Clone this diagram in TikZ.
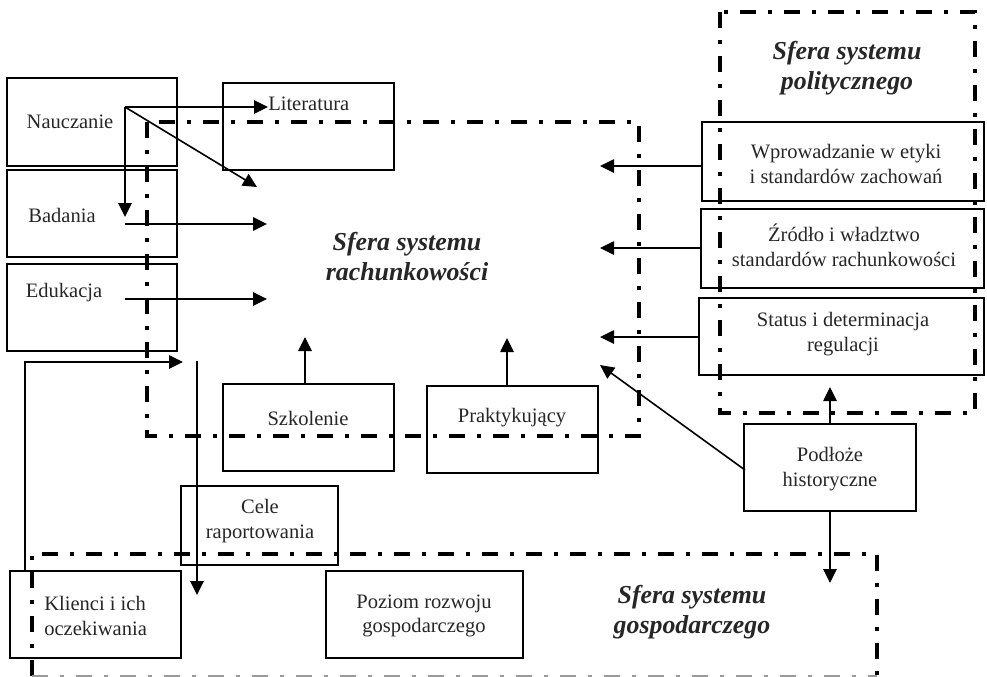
\documentclass[tikz,border=0pt]{standalone}
\usepackage{fontspec}
\setmainfont{Liberation Serif}
\usetikzlibrary{arrows.meta,fit}
\begin{document}
\begin{tikzpicture}[x=0.75pt,y=-0.75pt,
  box/.style={draw, line width=1.4pt, inner sep=0pt},
  lbl/.style={font=\fontsize{15.4}{18.5}\selectfont, align=center, inner sep=0pt, text=black!85},
  ttl/.style={font=\fontsize{19.4}{22.5}\selectfont\bfseries\itshape, align=center, inner sep=0pt, text=black!85},
  sfera/.style={line width=3pt, dash pattern=on 12pt off 9pt on 3pt off 9pt},
  arr/.style={line width=1.2pt, -{Triangle[length=10.5pt,width=10pt]}},
  ln/.style={line width=1.2pt}]
\useasboundingbox (0,0) rectangle (987,676);

% boxes
\node[box, fit={(7,78)(177,166)}] (nau) {};
\node[box, fit={(223,83)(394,170)}] (lit) {};
\node[box, fit={(7,170)(177,257)}] (bad) {};
\node[box, fit={(7,264)(177,351)}] (edu) {};
\node[box, fit={(223,384)(394,471)}] (szk) {};
\node[box, fit={(427,386)(598,473)}] (pra) {};
\node[box, fit={(181,486)(338,565)}] (cel) {};
\node[box, fit={(10,571)(181,658)}] (kli) {};
\node[box, fit={(326,571)(523,658)}] (poz) {};
\node[box, fit={(744,424)(916,511)}] (pod) {};
\node[box, fit={(702,122)(984,201)}] (wpr) {};
\node[box, fit={(701,209)(984,288)}] (zro) {};
\node[box, fit={(699,298)(984,375)}] (sta) {};

% texts
\node[lbl] (nauT) at (70,122) {Nauczanie};
\node[lbl, anchor=west] (litT) at (268,104) {Literatura};
\node[lbl] (badT) at (62,215) {Badania};
\node[lbl] (eduT) at (64,293) {Edukacja};
\node[lbl] (szkT) at (308,418) {Szkolenie};
\node[lbl] (praT) at (512,418) {Praktykujący};
\node[lbl] (celT) at (260,521) {Cele\\raportowania};
\node[lbl, align=left, anchor=west] (kliT) at (44,616) {Klienci i ich\\oczekiwania};
\node[lbl] (pozT) at (424,616) {Poziom rozwoju\\gospodarczego};
\node[lbl] (podT) at (830,469) {Podłoże\\historyczne};
\node[lbl] (wprT) at (846,164) {Wprowadzanie w etyki\\i standardów zachowań};
\node[lbl] (zroT) at (844,245) {Źródło i władztwo\\standardów rachunkowości};
\node[lbl] (staT) at (843,334) {Status i determinacja\\regulacji};

\node[ttl] (rachT) at (407,257) {Sfera systemu\\rachunkowości};
\node[ttl] (polT) at (847,68) {Sfera systemu\\politycznego};
\node[ttl] (gosT) at (692,612) {Sfera systemu\\gospodarczego};

% spheres
\draw[sfera] (147,122) rectangle (639,436);
\draw[sfera] (720,12) rectangle (975,413);
\draw[sfera] (32,676) -- (32,554) -- (877,554) -- (877,676);
\draw[sfera, line width=2pt, black!40] (32,676) -- (877,676);

% connector coordinates
\coordinate (n0) at (125,107);
\coordinate (n1) at (125,217);
\coordinate (n2) at (257,187);
\coordinate (b0) at (125,224);
\coordinate (b1) at (267,224);
\coordinate (e0) at (125,299);
\coordinate (e1) at (267,299);
\coordinate (k0) at (25,571);
\coordinate (k1) at (25,362);
\coordinate (k2) at (183,362);
\coordinate (c0) at (197,361);
\coordinate (c1) at (197,595);
\coordinate (s1) at (305,337);
\coordinate (p1) at (507,338);
\coordinate (w0) at (702,166);
\coordinate (w1) at (600,166);
\coordinate (z0) at (701,248);
\coordinate (z1) at (600,248);
\coordinate (t0) at (699,337);
\coordinate (t1) at (600,337);
\coordinate (h0) at (745,470);
\coordinate (h1) at (600,365);
\coordinate (u1) at (830,387);
\coordinate (d1) at (830,583);

% connectors
\draw[arr] (n0) -- (litT.west |- n0);
\draw[arr] (n0) -- (n1);
\draw[arr] (n0) -- (n2);
\draw[arr] (b0) -- (b1);
\draw[arr] (e0) -- (e1);
\draw[arr] (k0) -- (k1) -- (k2);
\draw[arr] (c0) -- (c1);
\draw[arr] (szk.north -| 305,0) -- (s1);
\draw[arr] (pra.north -| 507,0) -- (p1);
\draw[arr] (w0) -- (w1);
\draw[arr] (z0) -- (z1);
\draw[arr] (t0) -- (t1);
\draw[arr] (h0) -- (h1);
\draw[arr] (pod.north) -- (u1);
\draw[arr] (pod.south) -- (d1);
\end{tikzpicture}
\end{document}
